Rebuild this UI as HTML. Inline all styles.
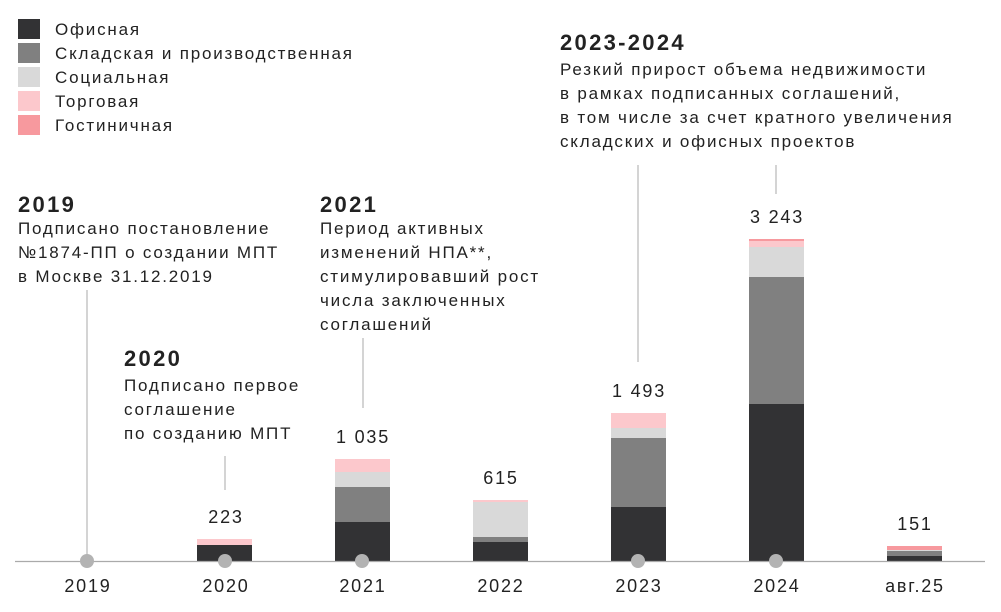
<!DOCTYPE html>
<html><head><meta charset="utf-8"><style>
body{margin:0;background:#fff;}
svg text{font-family:"Liberation Sans",sans-serif;fill:#222;letter-spacing:1.8px;}
svg text.b{letter-spacing:2.3px;}
</style></head><body>
<svg width="1001" height="607" xmlns="http://www.w3.org/2000/svg">
<g font-size="17">
<rect x="18" y="19" width="22" height="20" fill="#323234"/><text x="55" y="35">Офисная</text>
<rect x="18" y="43" width="22" height="20" fill="#808080"/><text x="55" y="59">Складская и производственная</text>
<rect x="18" y="67" width="22" height="20" fill="#d9d9d9"/><text x="55" y="83">Социальная</text>
<rect x="18" y="91" width="22" height="20" fill="#fcc8cc"/><text x="55" y="107">Торговая</text>
<rect x="18" y="115" width="22" height="20" fill="#f7999e"/><text x="55" y="131">Гостиничная</text>
</g>
<g font-size="22" font-weight="bold">
<text class="b" x="18" y="212">2019</text>
<text class="b" x="320" y="212">2021</text>
<text class="b" x="124" y="366">2020</text>
<text class="b" x="560" y="50">2023-2024</text>
</g>
<g font-size="17">
<text x="18" y="234">Подписано постановление</text>
<text x="18" y="258">№1874-ПП о создании МПТ</text>
<text x="18" y="282">в Москве 31.12.2019</text>
<text x="320" y="234">Период активных</text>
<text x="320" y="258">изменений НПА**,</text>
<text x="320" y="282">стимулировавший рост</text>
<text x="320" y="306">числа заключенных</text>
<text x="320" y="330">соглашений</text>
<text x="124" y="391">Подписано первое</text>
<text x="124" y="415">соглашение</text>
<text x="124" y="439">по созданию МПТ</text>
<text x="560" y="75">Резкий прирост объема недвижимости</text>
<text x="560" y="99">в рамках подписанных соглашений,</text>
<text x="560" y="123">в том числе за счет кратного увеличения</text>
<text x="560" y="147">складских и офисных проектов</text>
</g>
<g stroke="#aaa" stroke-width="1">
<line x1="87" y1="290" x2="87" y2="561"/>
<line x1="225" y1="456" x2="225" y2="490"/>
<line x1="363" y1="338" x2="363" y2="408"/>
<line x1="638" y1="165" x2="638" y2="362"/>
<line x1="776" y1="165" x2="776" y2="194"/>
</g>
<rect x="197" y="539" width="55" height="6" fill="#fcc8cc"/><rect x="197" y="545" width="55" height="16" fill="#323234"/>
<rect x="335" y="459" width="55" height="13" fill="#fcc8cc"/><rect x="335" y="472" width="55" height="15" fill="#d9d9d9"/><rect x="335" y="487" width="55" height="35" fill="#808080"/><rect x="335" y="522" width="55" height="39" fill="#323234"/>
<rect x="473" y="500" width="55" height="2" fill="#fcc8cc"/><rect x="473" y="502" width="55" height="35" fill="#d9d9d9"/><rect x="473" y="537" width="55" height="5" fill="#808080"/><rect x="473" y="542" width="55" height="19" fill="#323234"/>
<rect x="611" y="413" width="55" height="15" fill="#fcc8cc"/><rect x="611" y="428" width="55" height="10" fill="#d9d9d9"/><rect x="611" y="438" width="55" height="69" fill="#808080"/><rect x="611" y="507" width="55" height="54" fill="#323234"/>
<rect x="749" y="239" width="55" height="2" fill="#f7999e"/><rect x="749" y="241" width="55" height="6" fill="#fcc8cc"/><rect x="749" y="247" width="55" height="30" fill="#d9d9d9"/><rect x="749" y="277" width="55" height="127" fill="#808080"/><rect x="749" y="404" width="55" height="157" fill="#323234"/>
<rect x="887" y="546" width="55" height="4" fill="#f7999e"/><rect x="887" y="550" width="55" height="1" fill="#d9d9d9"/><rect x="887" y="551" width="55" height="5" fill="#808080"/><rect x="887" y="556" width="55" height="5" fill="#323234"/>
<line x1="15" y1="561.5" x2="985" y2="561.5" stroke="#aaa" stroke-width="1.2"/>
<g fill="#b3b3b3">
<circle cx="87" cy="561" r="7"/><circle cx="225" cy="561" r="7"/><circle cx="362" cy="561" r="7"/><circle cx="638" cy="561" r="7"/><circle cx="776" cy="561" r="7"/>
</g>
<g font-size="18" text-anchor="middle">
<text x="226" y="523">223</text>
<text x="363" y="443">1 035</text>
<text x="501" y="484">615</text>
<text x="639" y="397">1 493</text>
<text x="777" y="223">3 243</text>
<text x="915" y="530">151</text>
<text x="88" y="592">2019</text>
<text x="226" y="592">2020</text>
<text x="363" y="592">2021</text>
<text x="501" y="592">2022</text>
<text x="639" y="592">2023</text>
<text x="777" y="592">2024</text>
<text x="915" y="592">авг.25</text>
</g>
</svg>
</body></html>
